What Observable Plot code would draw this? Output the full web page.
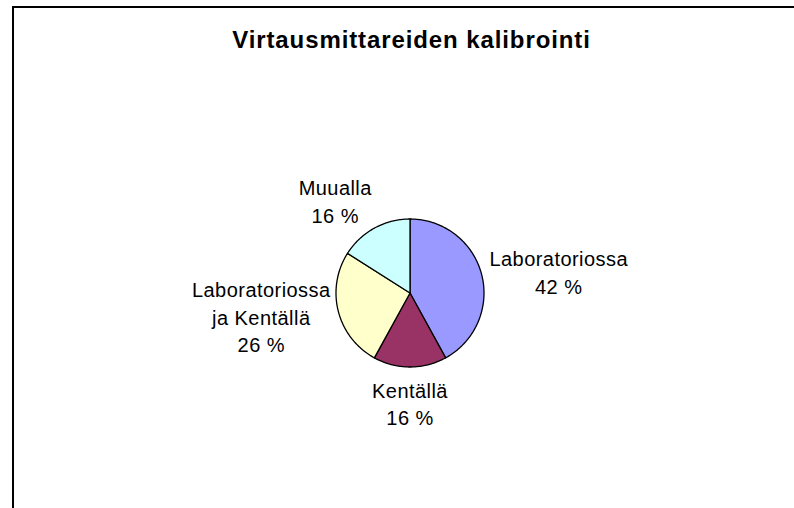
<!DOCTYPE html>
<html>
<head>
<meta charset="utf-8">
<script src="https://cdn.jsdelivr.net/npm/d3@7"></script>
<script src="https://cdn.jsdelivr.net/npm/@observablehq/plot@0.6"></script>
<style>
html, body { margin: 0; padding: 0; background: #fff; }
#wrap { position: relative; width: 794px; height: 508px; overflow: hidden; font-family: "Liberation Sans", Arial, sans-serif; }
#chart { position: absolute; left: 0; top: 0; }
#chart svg { font-family: "Liberation Sans", Arial, sans-serif; overflow: visible; }
#chart svg text { letter-spacing: 0.45px; }
#border { position: absolute; left: 12px; top: 6px; width: 782px; height: 502px; border-left: 2px solid #000; border-top: 2px solid #000; box-sizing: border-box; pointer-events: none; }
#title { position: absolute; left: 13px; width: 797px; top: 28px; text-align: center; font-weight: bold; font-size: 24px; line-height: 24px; letter-spacing: 0.9px; color: #000; white-space: nowrap; }
</style>
</head>
<body>
<div id="wrap">
  <div id="chart"></div>
  <div id="border"></div>
  <div id="title">Virtausmittareiden kalibrointi</div>
</div>
<script>
// ---- data ----
const categories = ["Laboratoriossa", "Kentällä", "Laboratoriossa ja Kentällä", "Muualla"];
const labelLines = ["Laboratoriossa", "Kentällä", "Laboratoriossa\nja Kentällä", "Muualla"];
const values = [42, 16, 26, 16];
const colors = ["#9999FF", "#993366", "#FFFFCC", "#CCFFFF"];

// ---- layout ----
const W = 794, H = 508;
const CX = 409.5, CY = 292.5, R = 74;
const FONT = 20, LINE = 1.38, LS = 0.45, GAP = 8;

const total = d3.sum(values);
const arcs = d3.pie().sort(null).value(d => d)(values);

const slices = arcs.map((a, i) => {
  const pts = [{x: 0, y: 0}];
  const n = Math.max(2, Math.ceil((a.endAngle - a.startAngle) / (Math.PI / 180)));
  for (let k = 0; k <= n; k++) {
    const t = a.startAngle + (a.endAngle - a.startAngle) * k / n;
    pts.push({x: Math.sin(t), y: Math.cos(t)});
  }
  pts.push({x: 0, y: 0});
  return {category: categories[i], color: colors[i], points: pts};
});

const ctx = document.createElement("canvas").getContext("2d");
ctx.font = `${FONT}px "Liberation Sans", Arial, sans-serif`;
const textW = s => ctx.measureText(s).width + LS * s.length;

const labels = arcs.map((a, i) => {
  const text = labelLines[i] + "\n" + Math.round(values[i] / total * 100) + " %";
  const lines = text.split("\n");
  const w = d3.max(lines, textW);
  const h = lines.length * FONT * LINE;
  const m = (a.startAngle + a.endAngle) / 2;
  const s = Math.sin(m), c = Math.cos(m);
  const kx = Math.min(1, 2 * Math.abs(s)), ky = Math.abs(c);
  const sx = Math.abs(s) < 1e-9 ? 0 : Math.sign(s);
  return {
    category: categories[i],
    text,
    x: (s * (R + GAP) + sx * kx * w / 2) / R,
    y: (c * (R + GAP) + c * ky * h / 2) / R
  };
});

const plot = Plot.plot({
  width: W,
  height: H,
  marginLeft: CX - R,
  marginRight: W - CX - R,
  marginTop: CY - R,
  marginBottom: H - CY - R,
  x: {domain: [-1, 1], axis: null},
  y: {domain: [-1, 1], axis: null},
  marks: [
    ...slices.map(s => Plot.line(s.points, {
      x: "x", y: "y", fill: s.color, stroke: "#000", strokeWidth: 1.3, strokeLinejoin: "round"
    })),
    Plot.text(labels, {
      x: "x", y: "y", text: "text", fontSize: FONT, lineHeight: LINE,
      fill: "#000", textAnchor: "middle", fontFamily: "Liberation Sans, Arial, sans-serif"
    })
  ]
});
document.getElementById("chart").appendChild(plot);
</script>
</body>
</html>
